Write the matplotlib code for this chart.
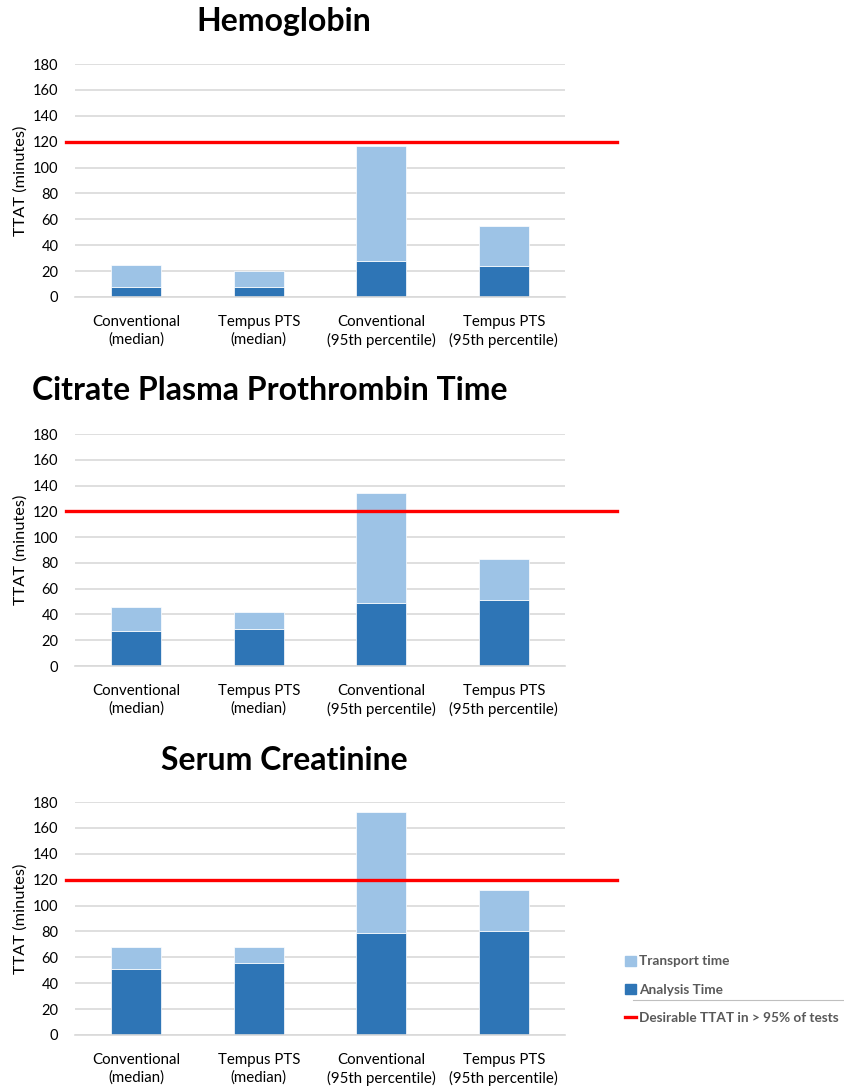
import numpy as np
import matplotlib
matplotlib.use('Agg')
import matplotlib.pyplot as plt
from matplotlib.patches import Patch
from matplotlib.lines import Line2D

plt.rcParams['font.family'] = ['Lato', 'DejaVu Sans']

categories = ['Conventional\n(median)', 'Tempus PTS\n(median)',
              'Conventional\n(95th percentile)', 'Tempus PTS\n(95th percentile)']
titles = ['Hemoglobin', 'Citrate Plasma Prothrombin Time', 'Serum Creatinine']

# analysis time and total TTAT (minutes) per panel
analysis_hb = [7.7, 7.7, 27.6, 24.0]
total_hb = [24.7, 20.4, 117.0, 54.6]
analysis_pt = [27.4, 28.4, 48.6, 50.9]
total_pt = [46.0, 41.9, 133.9, 83.0]
analysis_cr = [51.3, 55.7, 79.1, 80.2]
total_cr = [68.3, 68.3, 172.4, 111.9]
target = 120

panels = [(analysis_hb, total_hb), (analysis_pt, total_pt), (analysis_cr, total_cr)]

W, H = 844, 1089
fig = plt.figure(figsize=(W / 100, H / 100), dpi=100)

dark = '#2E75B6'
light = '#9DC3E6'
grey = '#595959'

# pixel boxes (top, bottom) of each plot area and title position
boxes = [(64, 297, 22), (434, 666, 391), (802, 1035, 760)]
left, right = 75, 565
title_x = [284, 270, 284]

for i, ((analysis, total), (top, bottom, ty)) in enumerate(zip(panels, boxes)):
    ax = fig.add_axes([left / W, 1 - bottom / H, (right - left) / W, (bottom - top) / H])
    x = np.arange(len(categories))
    transport = np.array(total) - np.array(analysis)
    ax.bar(x, analysis, width=0.41, color=dark, edgecolor='white', linewidth=0.5, zorder=2)
    ax.bar(x, transport, bottom=analysis, width=0.41, color=light, edgecolor='white',
           linewidth=0.5, zorder=2)
    ax.axhline(target, xmin=-0.018, xmax=1.106, color='#FF0000', lw=2.4, clip_on=False, zorder=3)
    ax.set_xlim(-0.5, 3.5)
    ax.set_ylim(0, 180)
    ax.set_yticks(np.arange(0, 181, 20))
    ax.yaxis.grid(True, color='#D9D9D9', lw=1.2, zorder=0)
    ax.set_axisbelow(True)
    for s in ['top', 'right', 'left']:
        ax.spines[s].set_visible(False)
    ax.spines['bottom'].set_color('#D9D9D9')
    ax.spines['bottom'].set_linewidth(1.2)
    ax.tick_params(length=0, labelsize=10.8, colors='black')
    ax.tick_params(axis='x', pad=13)
    ax.tick_params(axis='y', pad=12, labelsize=10.5)
    ax.set_xticks(x)
    ax.set_xticklabels(categories, linespacing=1.3)
    ax.set_ylabel('TTAT (minutes)', fontsize=11.8, labelpad=4)
    fig.text(title_x[i] / W, 1 - ty / H, titles[i], fontsize=23, fontweight='bold',
             ha='center', va='center')

handles = [Patch(color=light), Patch(color=dark), Line2D([], [], color='#FF0000', lw=2.4)]
labels = ['Transport time', 'Analysis Time', 'Desirable TTAT in > 95% of tests']
leg = fig.legend(handles, labels, loc='upper left', bbox_to_anchor=(620 / W, 1 - 950 / H),
                 frameon=False, fontsize=9.8, handlelength=0.8, handleheight=0.8,
                 handletextpad=0.2, labelspacing=1.2, borderaxespad=0)
for t in leg.get_texts():
    t.set_color(grey)
    t.set_fontweight('bold')

# thin separator under the second legend entry
fig.add_artist(Line2D([633 / W, 1.0], [1 - 1000 / H, 1 - 1000 / H], color='#BFBFBF', lw=0.8))

fig.savefig('out.png', dpi=100)
